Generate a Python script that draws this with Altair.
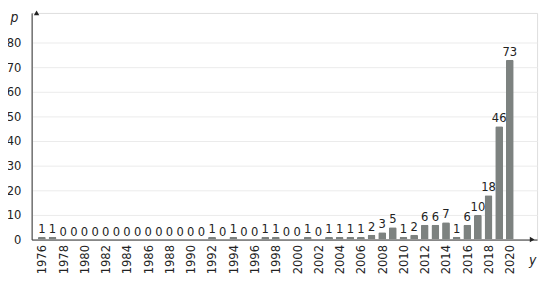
import altair as alt
import pandas as pd

years = list(range(1976, 2021))
counts = [1, 1, 0, 0, 0, 0, 0, 0, 0, 0, 0, 0, 0, 0, 0, 0,
          1, 0, 1, 0, 0, 1, 1, 0, 0, 1, 0, 1, 1, 1, 1, 2, 3, 5,
          1, 2, 6, 6, 7, 1, 6, 10, 18, 46, 73]
tick_years = list(range(1976, 2021, 2))
y_ticks = list(range(0, 81, 10))

X_MIN, X_MAX = 1975.5, 2022.1
Y_MAX = 92

df = pd.DataFrame({"year": years, "count": counts})
FONT = "Liberation Sans Narrow, DejaVu Sans Condensed, sans-serif"

xs = alt.Scale(domain=[X_MIN, X_MAX], nice=False, zero=False)
ys = alt.Scale(domain=[0, Y_MAX], nice=False)

x_axis = alt.Axis(values=tick_years, format="d", labelAngle=270,
                  labelOverlap=False,
                  grid=False, ticks=False, labelPadding=5,
                  domainColor="#333333", labelFontSize=13,
                  labelColor="#222222", labelFont=FONT,
                  title="y", titleFont=FONT, titleFontStyle="italic",
                  titleFontWeight="normal", titleFontSize=14,
                  titleX=508, titleY=14, titleColor="#222222",
                  titleAlign="center")
y_axis = alt.Axis(values=y_ticks, grid=True, gridColor="#ebebeb",
                  labelOverlap=False,
                  ticks=False, labelPadding=11, domainColor="#333333",
                  labelFontSize=13, labelColor="#222222", labelFont=FONT,
                  title="p", titleAngle=0, titleFont=FONT,
                  titleFontStyle="italic", titleFontWeight="normal",
                  titleFontSize=14, titleX=-18, titleY=12,
                  titleColor="#222222", titleAlign="center")

base = alt.Chart(df)

bars = base.mark_bar(color="#7d8280", size=8, cornerRadiusTopLeft=1.5,
                     cornerRadiusTopRight=1.5).encode(
    x=alt.X("year:Q", scale=xs, axis=x_axis),
    y=alt.Y("count:Q", scale=ys, axis=y_axis),
)

labels = base.mark_text(dy=-4, baseline="alphabetic", fontSize=13, font=FONT,
                        color="#222222").encode(
    x=alt.X("year:Q", scale=xs, axis=x_axis),
    y=alt.Y("count:Q", scale=ys, axis=y_axis),
    text=alt.Text("count:Q"),
)

arrow_df = pd.DataFrame({"ax": [X_MIN, X_MAX], "ay": [Y_MAX, 0],
                         "shape": ["triangle-up", "triangle-right"]})
arrows = alt.Chart(arrow_df).mark_point(filled=True, size=30, color="#222222",
                                        opacity=1).encode(
    x=alt.X("ax:Q", scale=xs, axis=x_axis),
    y=alt.Y("ay:Q", scale=ys, axis=y_axis),
    shape=alt.Shape("shape:N", scale=None, legend=None),
)

chart = alt.layer(bars, labels, arrows).properties(
    width=513, height=230,
    autosize=alt.AutoSizeParams(type="none"),
    padding={"left": 24, "top": 3, "right": 5, "bottom": 38},
).configure_view(stroke=None).configure(background="white")

chart.save("out.html", embed_options={"renderer": "svg", "actions": False})
